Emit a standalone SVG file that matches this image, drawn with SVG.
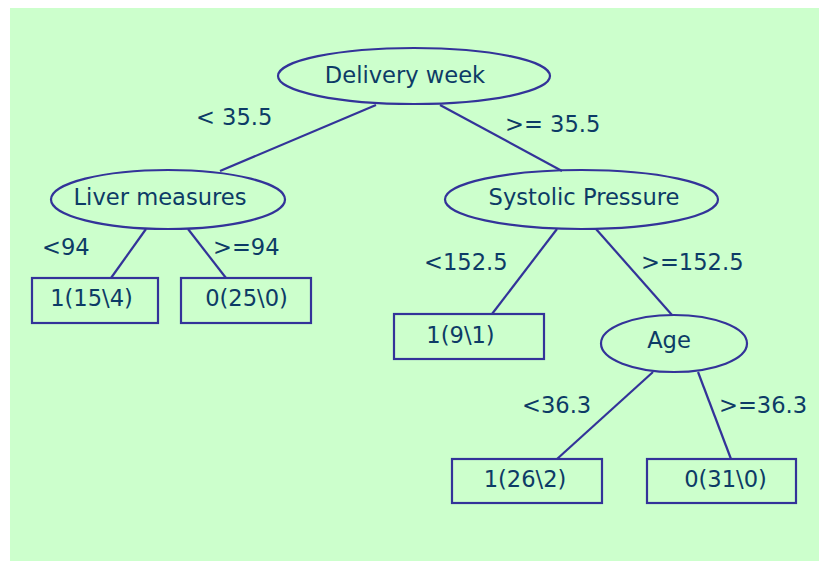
<svg xmlns="http://www.w3.org/2000/svg" width="819" height="561" viewBox="0 0 819 561">
  <style>
    .node { fill: none; stroke: #333399; stroke-width: 2.2; }
    .edge { stroke: #333399; stroke-width: 2.2; fill: none; }
    text { font-family: "DejaVu Sans", Verdana, sans-serif; font-size: 22.6px; fill: #0d3b66; }
    .c { text-anchor: middle; }
  </style>
  <rect x="0" y="0" width="819" height="561" fill="#ffffff"/>
  <rect x="10" y="8" width="809" height="553" fill="#ccffcc"/>

  <g id="connectors">
    <line class="edge" x1="376" y1="105" x2="220" y2="171"/>
    <line class="edge" x1="440" y1="105" x2="562" y2="171"/>
    <line class="edge" x1="146" y1="229" x2="111" y2="278"/>
    <line class="edge" x1="188" y1="229" x2="226" y2="278"/>
    <line class="edge" x1="557" y1="229" x2="492" y2="314"/>
    <line class="edge" x1="596" y1="229" x2="672" y2="315"/>
    <line class="edge" x1="653" y1="372" x2="557" y2="459"/>
    <line class="edge" x1="698" y1="372" x2="731" y2="459"/>
    <text x="196" y="125">&lt; 35.5</text>
    <text x="505" y="132">&gt;= 35.5</text>
    <text x="42" y="255">&lt;94</text>
    <text x="213" y="255">&gt;=94</text>
    <text x="424" y="270">&lt;152.5</text>
    <text x="641" y="270">&gt;=152.5</text>
    <text x="522" y="413">&lt;36.3</text>
    <text x="719" y="413">&gt;=36.3</text>
  </g>

  <g id="delivery-week">
    <ellipse class="node" cx="414" cy="76" rx="136" ry="28"/>
    <text class="c" x="405" y="83">Delivery week</text>
  </g>
  <g id="liver-measures">
    <ellipse class="node" cx="168" cy="199.5" rx="117" ry="29.5"/>
    <text class="c" x="160" y="205">Liver measures</text>
  </g>
  <g id="leaf-15-4">
    <rect class="node" x="32" y="278" width="126" height="45"/>
    <text class="c" x="91.5" y="306">1(15\4)</text>
  </g>
  <g id="leaf-25-0">
    <rect class="node" x="181" y="278" width="130" height="45"/>
    <text class="c" x="246.5" y="306">0(25\0)</text>
  </g>
  <g id="systolic-pressure">
    <ellipse class="node" cx="581.5" cy="199.5" rx="136.5" ry="29.5"/>
    <text class="c" x="584" y="205">Systolic Pressure</text>
  </g>
  <g id="leaf-9-1">
    <rect class="node" x="394" y="314" width="150" height="45"/>
    <text class="c" x="460.5" y="343">1(9\1)</text>
  </g>
  <g id="age">
    <ellipse class="node" cx="674" cy="343.5" rx="73" ry="28.5"/>
    <text class="c" x="669" y="348">Age</text>
  </g>
  <g id="leaf-26-2">
    <rect class="node" x="452" y="459" width="150" height="44"/>
    <text class="c" x="525" y="487">1(26\2)</text>
  </g>
  <g id="leaf-31-0">
    <rect class="node" x="647" y="459" width="149" height="44"/>
    <text class="c" x="725.5" y="487">0(31\0)</text>
  </g>
</svg>
